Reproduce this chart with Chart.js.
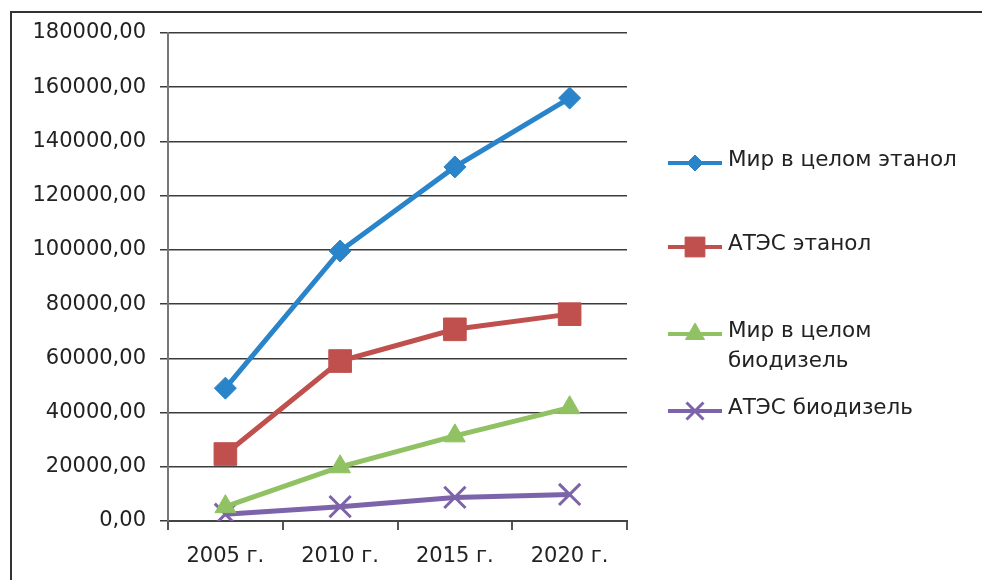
<!DOCTYPE html>
<html>
<head>
<meta charset="utf-8">
<script src="https://cdn.jsdelivr.net/npm/chart.js@4"></script>
<style>
  html, body { margin: 0; background: #fff; overflow: hidden; }
  #wrap { position: relative; width: 982px; height: 580px; }
</style>
</head>
<body>
<div id="wrap">
  <canvas id="fuelChart"></canvas>
</div>
<script>
  "use strict";

  // categories and series
  var years = ['2005 г.', '2010 г.', '2015 г.', '2020 г.'];
  var worldEthanol = [49000, 99600, 130600, 156000];
  var apecEthanol = [24700, 59000, 70700, 76300];
  var worldBiodiesel = [5300, 20000, 31400, 41800];
  var apecBiodiesel = [2500, 5300, 8700, 9800];

  var seriesNames = ['Мир в целом этанол', 'АТЭС этанол', 'Мир в целом биодизель', 'АТЭС биодизель'];
  // legend text, broken into lines
  var legendLines = [['Мир в целом этанол'], ['АТЭС этанол'], ['Мир в целом', 'биодизель'], ['АТЭС биодизель']];

  var yMax = 180000;
  var yStep = 20000;

  var font = 'DejaVu Sans';
  var textColor = '#222';

  function series(i, data, color, style, radius, legendRadius) {
    return {
      label: seriesNames[i],
      data: data,
      borderColor: color,
      backgroundColor: color,
      borderWidth: 5,
      tension: 0,
      pointStyle: style,
      pointRadius: radius,
      pointHoverRadius: radius,
      pointBorderWidth: style === 'crossRot' ? 3 : 1,
      pointBackgroundColor: color,
      pointBorderColor: color,
      legendRadius: legendRadius
    };
  }

  // outer frame: top and left edges only
  var frame = {
    id: 'frame',
    afterDraw: function(chart) {
      var g = chart.ctx;
      g.save();
      g.strokeStyle = '#333';
      g.lineWidth = 2;
      g.beginPath();
      g.moveTo(11, chart.height);
      g.lineTo(11, 12);
      g.lineTo(chart.width, 12);
      g.stroke();
      g.restore();
    }
  };

  // legend on the right, items placed down the side
  var sideLegend = {
    id: 'sideLegend',
    afterDraw: function(chart) {
      var g = chart.ctx;
      var rows = [163, 247, 334, 411];
      g.save();
      chart.data.datasets.forEach(function(ds, i) {
        var y = rows[i];
        g.strokeStyle = ds.borderColor;
        g.lineWidth = 4;
        g.beginPath();
        g.moveTo(668, y);
        g.lineTo(722, y);
        g.stroke();
        // drawPoint takes its fill and stroke from the context
        g.fillStyle = ds.borderColor;
        g.lineWidth = ds.pointBorderWidth;
        Chart.helpers.drawPoint(g, {
          pointStyle: ds.pointStyle,
          radius: ds.legendRadius,
          borderWidth: ds.pointBorderWidth,
          rotation: 0
        }, 695, y);
        g.fillStyle = textColor;
        g.font = '21.5px "' + font + '"';
        g.textBaseline = 'middle';
        g.textAlign = 'left';
        legendLines[i].forEach(function(line, k) {
          g.fillText(line, 728, y - 3 + k * 30);
        });
      });
      g.restore();
    }
  };

  var ctx = document.getElementById('fuelChart');
  var chart = new Chart(ctx, {
    type: 'line',
    data: {
      labels: years,
      datasets: [
        series(0, worldEthanol, '#2a84c9', 'rectRot', 11, 8),
        series(1, apecEthanol, '#c0504d', 'rect', 16, 14),
        series(2, worldBiodiesel, '#90c163', 'triangle', 12, 11),
        series(3, apecBiodiesel, '#7d63a9', 'crossRot', 15, 12)
      ]
    },
    options: {
      responsive: true,
      maintainAspectRatio: false,
      animation: false,
      layout: { padding: { left: 0, top: 33, right: 355, bottom: 0 } },
      plugins: {
        legend: { display: false },
        tooltip: { enabled: false }
      },
      scales: {
        x: {
          offset: true,
          grid: {
            offset: true,
            drawOnChartArea: false,
            tickLength: 9,
            color: '#555',
            lineWidth: 2
          },
          border: { color: '#444', width: 2 },
          ticks: {
            color: textColor,
            padding: 14,
            font: { family: font, size: 21 }
          },
          afterFit: function(scale) { scale.height = 59; }
        },
        y: {
          min: 0,
          max: yMax,
          grid: {
            color: '#3c3c3c',
            lineWidth: 1.5,
            tickLength: 8
          },
          border: { color: '#777', width: 2 },
          ticks: {
            stepSize: yStep,
            color: textColor,
            padding: 14,
            font: { family: font, size: 21 },
            callback: function(v) { return v.toFixed(2).replace('.', ','); }
          },
          afterFit: function(scale) { scale.width = 168; }
        }
      }
    },
    plugins: [frame, sideLegend]
  });
</script>
</body>
</html>
